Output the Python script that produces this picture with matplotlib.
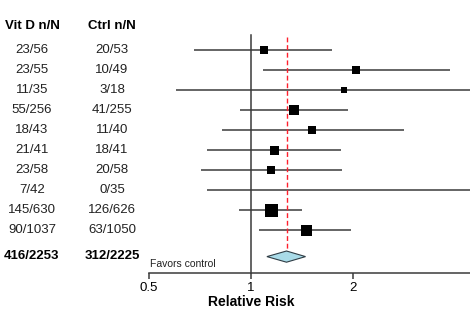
import numpy as np
import matplotlib.pyplot as plt
import matplotlib.transforms as mt

plt.rcParams['font.family'] = ['Liberation Sans', 'DejaVu Sans']

# study rows
vitd = ['23/56', '23/55', '11/35', '55/256', '18/43', '21/41', '23/58', '7/42', '145/630', '90/1037']
ctrl = ['20/53', '10/49', '3/18', '41/255', '11/40', '18/41', '20/58', '0/35', '126/626', '63/1050']
rr = [1.09, 2.05, 1.89, 1.34, 1.52, 1.17, 1.15, np.nan, 1.15, 1.45]
lo = [0.68, 1.085, 0.60, 0.93, 0.82, 0.74, 0.71, 0.74, 0.925, 1.06]
hi = [1.74, 3.88, 6.0, 1.93, 2.83, 1.85, 1.86, 6.0, 1.42, 1.98]
weight = [8, 7.5, 6, 10.5, 8, 9, 8, 0, 13, 11]   # box side, px

# pooled
tot_vitd, tot_ctrl = '416/2253', '312/2225'
pool_rr, pool_lo, pool_hi = 1.274, 1.115, 1.45

fig = plt.figure(figsize=(4.7, 3.2), dpi=100)
ax = fig.add_axes([149/470, 47.3/320, 1 - 149/470, (272.7 - 20)/320])
ax.set_xscale('log')
ax.set_xlim(0.5, 2 ** ((470 - 250.7) / 102))
ax.set_ylim(11.135, -1.5)

lc = '#3a3a3a'
rows = np.arange(len(rr))
for i in rows:
    ax.plot([lo[i], hi[i]], [i, i], color=lc, lw=1.1, solid_capstyle='butt')
    if not np.isnan(rr[i]):
        ax.plot(rr[i], i, marker='s', color='black', ms=weight[i] * 0.72, mew=0)

# vertical reference lines
ax.plot([1, 1], [-0.75, 11.135], color=lc, lw=1.1, clip_on=False)
yd = 10.33
ax.plot([pool_rr, pool_rr], [-0.65, yd], color='#ff1f2d', lw=1.0, ls=(0, (3.5, 2)))

# pooled diamond
dx = [pool_lo, pool_rr, pool_hi, pool_rr, pool_lo]
dy = [yd, yd - 0.28, yd, yd + 0.28, yd]
ax.fill(dx, dy, facecolor='#a9dbe8', edgecolor='#2f3d45', lw=0.8, zorder=3)

# left columns
trf = mt.blended_transform_factory(fig.transFigure, ax.transData)
fs = 9.5
ax.text(32/470, -1.2, 'Vit D n/N', transform=trf, ha='center', va='center', fontsize=fs, fontweight='bold')
ax.text(112/470, -1.2, 'Ctrl n/N', transform=trf, ha='center', va='center', fontsize=fs, fontweight='bold')
for i in rows:
    ax.text(32/470, i, vitd[i], transform=trf, ha='center', va='center', fontsize=fs, color='#222222')
    ax.text(112/470, i, ctrl[i], transform=trf, ha='center', va='center', fontsize=fs, color='#222222')
ax.text(32/470, 10.3, tot_vitd, transform=trf, ha='center', va='center', fontsize=fs, fontweight='bold')
ax.text(112/470, 10.3, tot_ctrl, transform=trf, ha='center', va='center', fontsize=fs, fontweight='bold')

ax.text(0.505, 10.72, 'Favors control', ha='left', va='center', fontsize=7.5, color='#222222')

# axes styling
for s in ['top', 'right', 'left']:
    ax.spines[s].set_visible(False)
ax.spines['bottom'].set_color(lc)
ax.spines['bottom'].set_linewidth(1.1)
ax.set_yticks([])
ax.set_xticks([0.5, 1, 2])
ax.set_xticklabels(['0.5', '1', '2'])
ax.xaxis.set_minor_locator(plt.NullLocator())
ax.tick_params(axis='x', direction='out', length=4, width=1.1, color=lc, labelsize=fs, pad=3)
ax.text(1, -0.115, 'Relative Risk', transform=mt.blended_transform_factory(ax.transData, ax.transAxes),
        ha='center', va='center', fontsize=10, fontweight='bold')

fig.savefig('out.png', dpi=100)
